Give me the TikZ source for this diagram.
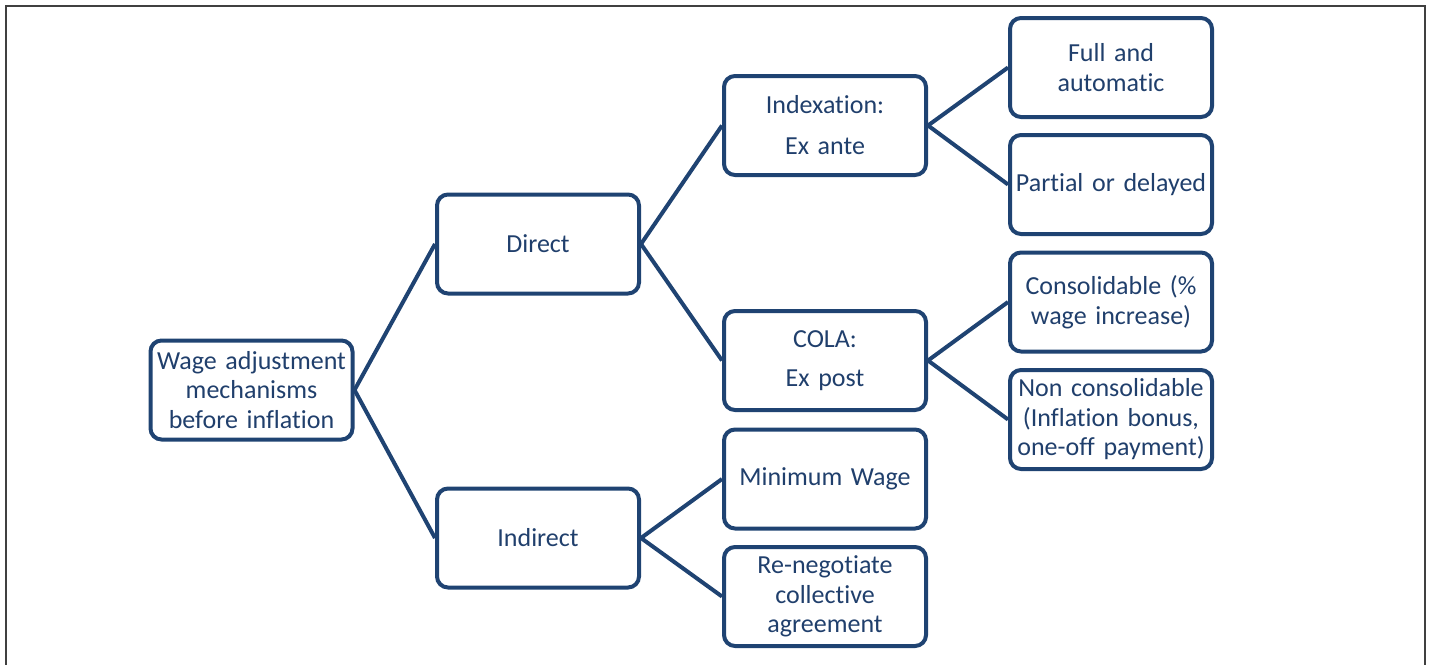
\documentclass[tikz,border=0pt]{standalone}
\usepackage{fontspec}
\setmainfont{Carlito}[Ligatures=NoCommon]
\definecolor{boxblue}{HTML}{1F4372}
\definecolor{txtblue}{HTML}{203F6C}
\definecolor{framegray}{HTML}{404040}
\begin{document}
\begin{tikzpicture}[x=1pt,y=-1pt,
  box/.style={draw=boxblue,line width=4pt,rounded corners=11pt,
    minimum width=202pt,minimum height=99pt,text width=202pt,align=center,
    inner sep=0pt,text=txtblue,font=\fontsize{26}{29.5}\selectfont},
  link/.style={draw=boxblue,line width=4pt}]
\useasboundingbox (0,0) rectangle (1431,664);
\draw[framegray,line width=2pt] (6,666) -- (6,6) -- (1425,6) -- (1425,666);
\node[box] (root) at (251.5,390) {Wage adjustment\\mechanisms\\before inflation};
\node[box] (direct) at (538,244) {Direct};
\node[box] (indirect) at (538,538) {Indirect};
\node[box] (index) at (825,125.5) {Indexation:\\[11.5pt]Ex ante};
\node[box] (cola) at (825,360.5) {COLA:\\[9.5pt]Ex post};
\node[box] (minw) at (825,479) {\raisebox{-2pt}{Minimum Wage}};
\node[box] (reneg) at (825,596.5) {Re-negotiate\\collective\\agreement};
\node[box] (full) at (1111,67.5) {Full and\\automatic};
\node[box] (partial) at (1111,184.5) {Partial or delayed};
\node[box] (consol) at (1111,302) {Consolidable (\%\\wage increase)};
\node[box] (noncons) at (1111,419.5) {Non consolidable\\(Inflation bonus,\\one-off payment)};
\draw[link] (root.east) -- (direct.west);
\draw[link] (root.east) -- (indirect.west);
\draw[link] (direct.east) -- (index.west);
\draw[link] (direct.east) -- (cola.west);
\draw[link] (indirect.east) -- (minw.west);
\draw[link] (indirect.east) -- (reneg.west);
\draw[link] (index.east) -- (full.west);
\draw[link] (index.east) -- (partial.west);
\draw[link] (cola.east) -- (consol.west);
\draw[link] (cola.east) -- (noncons.west);
\end{tikzpicture}
\end{document}
